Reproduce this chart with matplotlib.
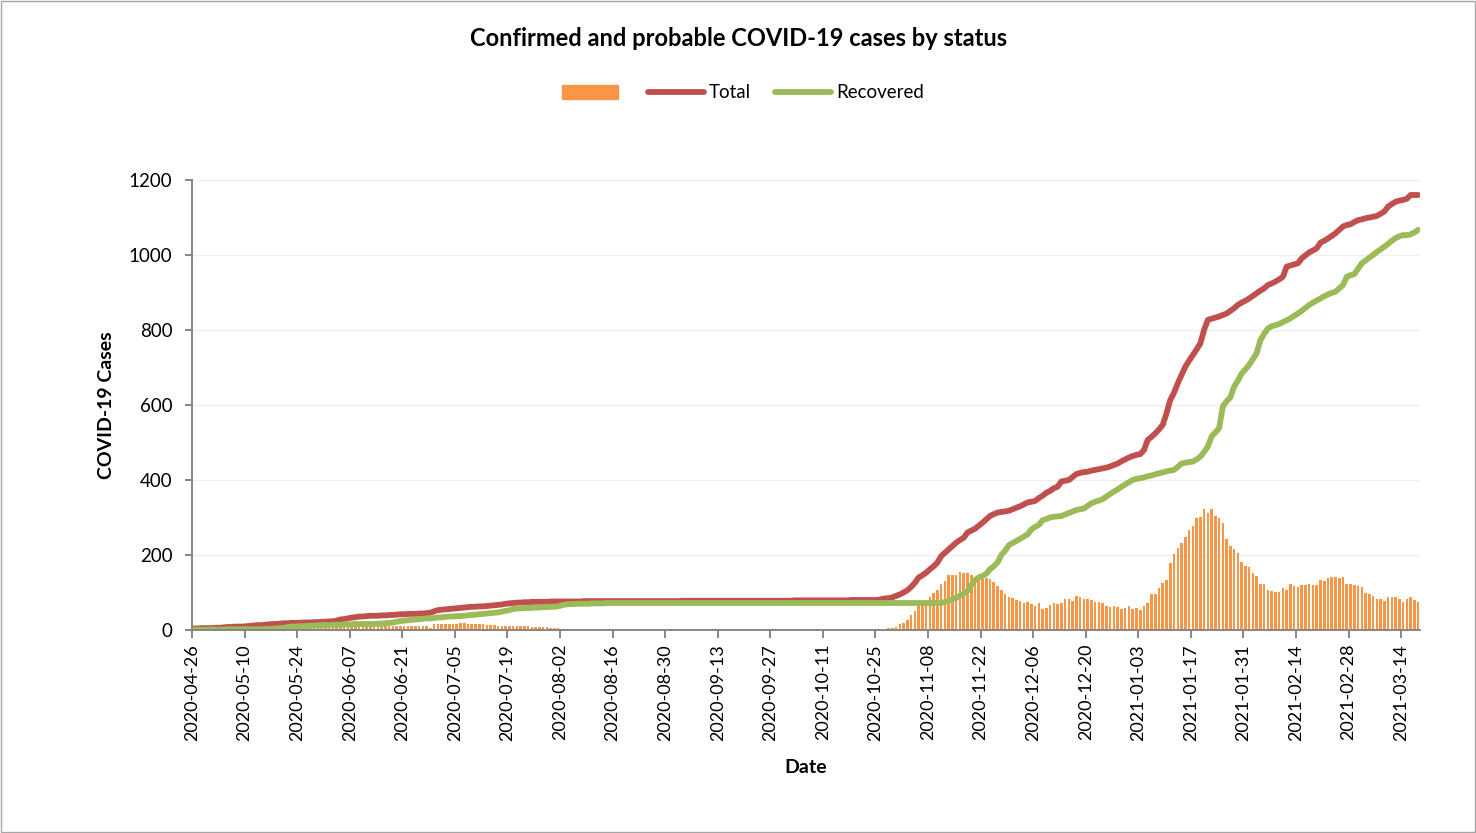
import matplotlib
matplotlib.use('Agg')
import matplotlib.pyplot as plt
import numpy as np
import pandas as pd
from matplotlib.patches import Rectangle
from matplotlib.lines import Line2D

start_date = '2020-04-26'

tick_labels = ['2020-04-26', '2020-05-10', '2020-05-24', '2020-06-07', '2020-06-21',
               '2020-07-05', '2020-07-19', '2020-08-02', '2020-08-16', '2020-08-30',
               '2020-09-13', '2020-09-27', '2020-10-11', '2020-10-25', '2020-11-08',
               '2020-11-22', '2020-12-06', '2020-12-20', '2021-01-03', '2021-01-17',
               '2021-01-31', '2021-02-14', '2021-02-28', '2021-03-14']

# daily values, 2020-04-26 .. 2021-03-18
active = [
    2, 2, 2, 3, 3, 3, 3, 4, 4, 4, 4, 5, 5, 5, 5, 5, 6, 6, 6, 6, 6, 6, 6, 6, 6,
    6, 6, 6, 6, 6, 6, 6, 7, 7, 7,
    8, 8, 9, 9, 9, 10, 10, 10, 11, 11, 11, 11, 12, 12, 12, 12, 12, 12, 12,
    12, 12, 12, 12, 11, 11, 11, 11, 10,
    6,
    15, 15, 16, 16, 16, 17, 17,
    19, 20,
    17, 17, 16, 16, 16,
    14, 13, 13, 12, 12, 12,
    11, 11, 11, 10, 10, 10, 9, 9,
    8, 7, 7, 6, 6, 5, 4, 3,
    0, 0, 0, 0, 0, 0, 0, 0, 0, 0, 0, 0, 0, 0,
    0, 0, 0, 0, 0, 0, 0, 0, 0, 0, 0, 0, 0, 0,
    0, 0, 0, 0, 0, 0, 0, 0, 0, 0, 0, 0, 0, 0,
    0, 0, 0, 0, 0, 0, 0, 0, 0, 0, 0, 0, 0, 0,
    0, 0, 0, 0, 0, 0, 0, 0, 0, 0, 0, 0, 0, 0,
    0, 0, 0, 0, 0, 0, 0, 0, 0, 0, 0, 0, 0, 0,
    4, 6, 6, 9, 15, 18, 28, 40, 52, 67, 67, 73, 88, 100, 106, 122, 131, 146,
    148, 146, 155, 151, 151, 148, 140, 142, 137, 140, 135, 128, 117, 106, 95, 89,
    85, 81, 77, 72, 76, 69, 64, 72, 56, 59, 67, 71, 70, 72, 82, 82, 77, 91, 88,
    82, 82, 80, 74, 76, 73, 63, 62, 64, 61, 56, 59, 65, 56, 59, 54, 64, 71, 96,
    96, 111, 126, 133, 178,
    203, 220, 231, 249, 267, 277, 298, 302, 322, 311, 322, 304, 298, 286, 242,
    224, 215, 206, 182, 171, 167, 153, 144, 123, 123, 108, 104, 101, 101, 111,
    108, 124, 117, 114, 119, 119, 124, 120, 120, 133, 131, 138, 141, 141, 139,
    141, 123, 123, 120, 117, 114, 100, 96, 92, 82, 82, 78, 87, 87, 89, 84, 76,
    82, 87, 80, 76,
]

total = [
    4, 4, 5, 5, 5, 5,
    6, 6, 7, 8, 8, 9, 9,
    9, 10, 11, 12, 13, 13, 14,
    15, 16, 16, 17, 18, 18, 19,
    19, 19, 20, 20, 20, 21, 21,
    22, 22, 23, 23, 25, 28, 29,
    31, 33, 34, 36, 36, 37, 38,
    38, 38, 39, 39, 40, 40, 41,
    42, 42, 43, 43, 43, 44, 44,
    45, 46, 50, 53, 54, 55, 56,
    57, 58, 59, 60, 61, 62, 62,
    63, 63, 64, 65, 66, 67, 68,
    70, 71, 72, 73, 73, 74, 74,
    75, 75, 75, 75, 75, 76, 76,
    76, 76, 76, 76, 76, 76, 76,
    77, 77, 77, 77, 77, 77, 77, 77, 77, 77, 77, 77, 77,
    77, 77, 77, 77, 77, 77, 77, 77, 77, 77, 77, 77, 77,
    78, 78, 78, 78, 78, 78, 78, 78, 78, 78, 78, 78, 78, 78, 78,
    78, 78, 78, 78, 78, 78, 78, 78, 78, 78, 78, 78, 78, 78, 78,
    79, 79, 79, 79, 79, 79, 79, 79, 79, 79, 79, 79, 79, 79, 79,
    80, 80, 80, 80, 80, 80, 80, 80,
    82, 84, 85, 87, 91, 95, 100,
    106, 115, 126, 140, 146, 153, 162,
    170, 180, 197, 206, 215, 224, 233,
    240, 246, 260, 265, 270, 278, 286,
    295, 304, 309, 313, 315, 316, 318,
    322, 326, 330, 335, 340, 342, 344,
    352, 358, 366, 371, 378, 382, 396,
    398, 400, 408, 416, 419, 421, 422,
    425, 427, 429, 431, 433, 436, 440,
    444, 450, 455, 460, 464, 467, 469,
    480, 507, 515, 524, 535, 547, 578,
    613, 633, 658, 680, 702, 718, 733,
    748, 764, 800, 827, 830, 833, 836,
    840, 844, 851, 858, 867, 873, 878,
    884, 891, 898, 905, 911, 920, 924,
    929, 935, 942, 969, 972, 975, 978,
    991, 999, 1007, 1012, 1018, 1033, 1038,
    1044, 1051, 1058, 1067, 1076, 1080, 1082,
    1088, 1093, 1095, 1098, 1100, 1102, 1104,
    1110, 1116, 1129, 1136, 1142, 1145, 1147,
    1150, 1160, 1160, 1160,
]

recovered = [
    1, 1, 1, 1, 1, 1,
    1, 1, 1, 2, 2, 2, 2,
    2, 2, 2, 2, 2, 2, 3,
    3, 3, 4, 5, 6, 8, 9,
    9, 10, 10, 11, 11, 12, 12,
    13, 13, 13, 14, 14, 14, 15,
    15, 15, 16, 16, 16, 16, 16,
    16, 17, 17, 18, 19, 20, 22,
    24, 25, 26, 27, 28, 29, 30,
    31, 31, 32, 33, 34, 35, 36,
    36, 37, 37, 38, 39, 40, 41,
    42, 43, 44, 45, 46, 47, 49,
    51, 53, 56, 57, 58, 58, 59,
    59, 60, 60, 61, 61, 62, 62,
    63, 66, 68, 69, 69, 70, 70,
    70, 70, 71, 71, 71, 71, 72,
    72, 72, 72, 72, 72, 72, 72, 72, 72, 72, 72, 72, 72, 72, 72,
    72, 72, 72, 72, 72, 72, 72, 72, 72, 72, 72, 72, 72, 72, 72,
    72, 72, 72, 72, 72, 72, 72, 72, 72, 72, 72, 72, 72, 72, 72,
    72, 72, 72, 72, 72, 72, 72, 72, 72, 72, 72, 72, 72, 72, 72,
    72, 72, 72, 72, 72, 72, 72, 72, 72, 72, 72, 72, 72, 72, 72,
    72, 72, 72, 72, 72, 72, 72, 72, 72, 72, 72, 72, 72, 72,
    75, 78, 82, 86, 91, 97, 104,
    120, 133, 140, 144, 150, 162, 170,
    180, 200, 211, 226, 232, 237, 243,
    249, 255, 268, 275, 280, 293, 296,
    300, 302, 303, 304, 308, 312, 316,
    320, 322, 324, 331, 338, 342, 345,
    349, 356, 363, 369, 375, 382, 388,
    394, 400, 403, 405, 407, 410, 412,
    415, 418, 420, 423, 425, 427, 435,
    444, 446, 448, 449, 455, 462, 475,
    489, 516, 527, 538, 596, 610, 620,
    649, 665, 684, 695, 707, 722, 738,
    773, 790, 804, 810, 813, 816, 821,
    826, 831, 838, 844, 851, 859, 867,
    873, 879, 884, 890, 895, 899, 902,
    911, 920, 942, 946, 949, 963, 978,
    985, 993, 1000, 1008, 1015, 1022, 1030,
    1038, 1045, 1050, 1053, 1053, 1055, 1060,
    1067,
]

y_ticks = [0, 200, 400, 600, 800, 1000, 1200]

n = min(len(active), len(total), len(recovered))
active, total, recovered = active[:n], total[:n], recovered[:n]

start = pd.Timestamp(start_date)
dates = pd.date_range(start, periods=n, freq='D')
x = np.asarray((dates - start).days, dtype=float) + 0.5
tick_pos = [(pd.Timestamp(t) - start).days for t in tick_labels]

FONT = ['Lato', 'DejaVu Sans']
plt.rcParams['font.family'] = FONT

W, H = 1476, 833
fig = plt.figure(figsize=(W / 100, H / 100), dpi=100)
fig.patch.set_facecolor('white')

ax = fig.add_axes([192 / W, 1 - 630 / H, (1420 - 192) / W, 450 / H])
ax.bar(x, active, width=0.68, color='#F79646', zorder=2, linewidth=0)
ax.plot(x, total, color='#C0504D', lw=4.2, solid_capstyle='round',
        solid_joinstyle='round', zorder=3)
ax.plot(x, recovered, color='#9BBB59', lw=4.2, solid_capstyle='round',
        solid_joinstyle='round', zorder=4)

ax.set_xlim(0, n)
ax.set_ylim(0, 1200)
ax.set_yticks(y_ticks)
ax.set_yticklabels([str(v) for v in y_ticks], fontsize=13.5)
ax.set_xticks(tick_pos)
ax.set_xticklabels(tick_labels, rotation=90, fontsize=13)
ax.yaxis.grid(True, color='#EFEFEF', lw=1, zorder=0)
ax.set_axisbelow(True)
for s in ['top', 'right']:
    ax.spines[s].set_visible(False)
for s in ['left', 'bottom']:
    ax.spines[s].set_color('#868686')
    ax.spines[s].set_linewidth(1.4)
    ax.spines[s].set_zorder(5)
ax.tick_params(axis='x', direction='out', length=6, width=1.4, color='#868686', pad=4)
ax.tick_params(axis='y', direction='out', length=5, width=1.4, color='#868686', pad=9)

ax.set_xlabel('Date', fontsize=14, fontweight='bold', labelpad=13)
ax.set_ylabel('COVID-19 Cases', fontsize=14, fontweight='bold', labelpad=10)

fig.text(739 / W, 1 - 38 / H, 'Confirmed and probable COVID-19 cases by status',
         ha='center', va='center', fontsize=17, fontweight='bold')

handles = [Rectangle((0, 0), 1, 1, color='#F79646'),
           Line2D([], [], color='#C0504D', lw=4.2, solid_capstyle='round'),
           Line2D([], [], color='#9BBB59', lw=4.2, solid_capstyle='round')]
fig.legend(handles, ['', 'Total', 'Recovered'], loc='center',
           bbox_to_anchor=(743 / W, 1 - 93 / H), ncol=3, frameon=False,
           fontsize=13.5, handlelength=3.0, handleheight=0.7, handletextpad=0.25,
           columnspacing=1.3)

fig.add_artist(Rectangle((0.0007, 0.0012), 0.9986, 0.9976, transform=fig.transFigure,
                         fill=False, edgecolor='#A6A6A6', lw=1))

fig.savefig('out.png', dpi=100)
